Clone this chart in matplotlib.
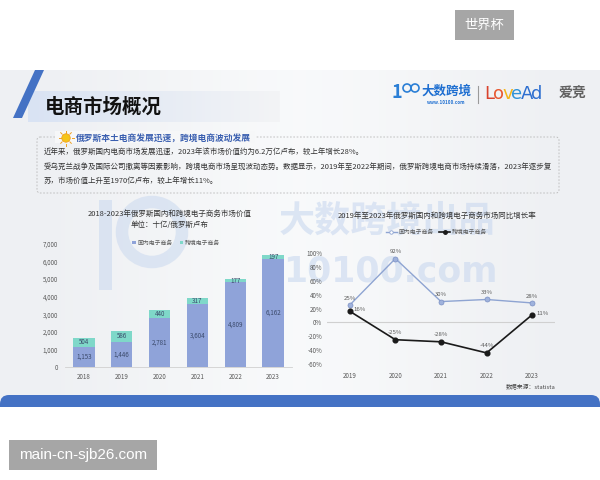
import numpy as np
import matplotlib
matplotlib.use('Agg')
import matplotlib.pyplot as plt
from matplotlib.patches import Rectangle, FancyBboxPatch, Polygon, Circle
from matplotlib.lines import Line2D

plt.rcParams['font.family'] = ['Noto Sans CJK SC', 'DejaVu Sans']

# data
years_value = ['2018', '2019', '2020', '2021', '2022', '2023']
domestic_value = [1153, 1446, 2781, 3604, 4809, 6162]
cross_value = [504, 586, 440, 317, 177, 197]

years_growth = ['2019', '2020', '2021', '2022', '2023']
domestic_growth = [25, 92, 30, 33, 28]
cross_growth = [16, -25, -28, -44, 11]

series_names = ['国内电子商务', '跨境电子商务']

c_dom = '#8fa3d9'
c_cross = '#7fd8c9'
c_line = '#8ea4d2'
c_black = '#1a1a1a'
c_tick = '#595959'

fig = plt.figure(figsize=(6, 4.8), dpi=100)

# background / decoration layer in pixel coords
bg = fig.add_axes([0, 0, 1, 1])
bg.set_xlim(0, 600)
bg.set_ylim(480, 0)
bg.axis('off')

grad = np.array([[0.0, 0.5, 1.0, 0.5, 0.0]])
bg.imshow(grad, extent=(0, 600, 400, 70), cmap=matplotlib.colors.LinearSegmentedColormap.from_list('g', ['#eef0f3', '#fafbfc']),
          aspect='auto', interpolation='bicubic', zorder=0)

# blue bottom band
bg.add_patch(FancyBboxPatch((0, 395), 600, 30, boxstyle='round,pad=0,rounding_size=9',
                            fc='#4472c4', ec='none', zorder=1))
bg.add_patch(Rectangle((0, 407), 600, 73, fc='white', ec='none', zorder=2))

# watermark boxes
bg.add_patch(Rectangle((455, 10), 59, 30, fc='#a6a6a6', ec='none', zorder=3))
bg.text(484.5, 25, '世界杯', color='white', fontsize=9.5, ha='center', va='center', zorder=4)
bg.add_patch(Rectangle((9, 440), 148, 30, fc='#a6a6a6', ec='none', zorder=3))
bg.text(83, 455, 'main-cn-sjb26.com', color='white', fontsize=11, family='Liberation Sans',
        ha='center', va='center', zorder=4)

# title band and stripe
band = np.linspace(1, 0, 100).reshape(1, -1)
bg.imshow(band, extent=(28, 280, 122, 91), aspect='auto',
          cmap=matplotlib.colors.LinearSegmentedColormap.from_list('b', ['#f3f4f6', '#d9e3f3']),
          zorder=1)
bg.add_patch(Polygon([(35, 70), (44, 70), (22, 118), (13, 118)], closed=True, fc='#4472c4', ec='none', zorder=2))
bg.text(45, 107, '电商市场概况', fontsize=14, fontweight='bold', color='#111111', va='center', zorder=3)

# logos
bg.text(397, 93, '1', fontsize=13, fontweight='bold', color='#2b7fd6', ha='center', va='center', zorder=3)
bg.add_patch(Circle((407, 88), 4, fc='none', ec='#2b7fd6', lw=1.2, zorder=3))
bg.add_patch(Circle((415, 88), 4, fc='none', ec='#2b7fd6', lw=1.2, zorder=3))
bg.text(446, 91, '大数跨境', fontsize=9, fontweight='bold', color='#1f6fd1', ha='center', va='center', zorder=3)
bg.text(446, 103, 'www.10100.com', fontsize=3.3, fontweight='bold', color='#1f6fd1', ha='center', va='center', zorder=3)
bg.plot([478, 478], [86, 103], color='#9a9a9a', lw=0.8, zorder=3)
x0 = 484
for ch, col, w in [('L', '#d9432e', 9), ('o', '#e8572f', 9.5), ('v', '#f2b51b', 9), ('e', '#2e92d8', 9), ('A', '#2e6fd0', 10), ('d', '#2e6fd0', 9)]:
    bg.text(x0, 94, ch, fontsize=13, color=col, family='DejaVu Sans', va='center', ha='left', zorder=3)
    x0 += w
bg.text(572, 94, '爱竞', fontsize=10, fontweight='bold', color='#606060', ha='center', va='center', zorder=3)

# dashed info box
bg.add_patch(FancyBboxPatch((37, 137), 522, 56, boxstyle='round,pad=0,rounding_size=3',
                            fc='none', ec='#b8b8b8', lw=0.6, ls=(0, (2, 2)), zorder=2))
bg.add_patch(Rectangle((55, 131), 200, 12, fc='#f6f7f8', ec='none', zorder=3))
bg.add_patch(Circle((66, 138), 4.2, fc='#f5c518', ec='#f0a020', lw=0.6, zorder=4))
for a in np.linspace(0, 2 * np.pi, 9)[:-1]:
    bg.plot([66 + 5.5 * np.cos(a), 66 + 7.5 * np.cos(a)], [138 + 5.5 * np.sin(a), 138 + 7.5 * np.sin(a)],
            color='#f0a020', lw=0.7, zorder=4)
bg.text(76, 139, '俄罗斯本土电商发展迅速，跨境电商波动发展', fontsize=6.3, fontweight='bold',
        color='#3a5fb0', va='center', zorder=4)
para = ['近年来，俄罗斯国内电商市场发展迅速，2023年该市场价值约为6.2万亿卢布，较上年增长28%。',
        '受乌克兰战争及国际公司撤离等因素影响，跨境电商市场呈现波动态势。数据显示，2019年至2022年期间，俄罗斯跨境电商市场持续滑落，2023年逐步复',
        '苏，市场价值上升至1970亿卢布，较上年增长11%。']
for i, line in enumerate(para):
    bg.text(44, 152 + i * 14.5, line, fontsize=5.4, color='#333333', va='center', zorder=4)

# big faint watermark
wm = '#c9d8ef'
bg.text(387, 221, '大数跨境出品', fontsize=26, fontweight='bold', color=wm, alpha=0.6, ha='center', va='center', zorder=2)
bg.text(390, 272, '10100.com', fontsize=25, fontweight='bold', color=wm, alpha=0.6, ha='center', va='center',
        family='DejaVu Sans', zorder=2)
bg.add_patch(Rectangle((99, 200), 13, 90, fc=wm, ec='none', alpha=0.55, zorder=2))
bg.add_patch(Circle((152, 232), 30, fc='none', ec=wm, lw=9, alpha=0.55, zorder=2))

# chart titles / source
bg.text(170, 214, '2018-2023年俄罗斯国内和跨境电子商务市场价值', fontsize=5.4, color='#333333', ha='center', va='center', zorder=5)
bg.text(170, 225, '单位：十亿/俄罗斯卢布', fontsize=5.4, color='#333333', ha='center', va='center', zorder=5)
bg.text(437, 216, '2019年至2023年俄罗斯国内和跨境电子商务市场同比增长率', fontsize=5.4, color='#333333', ha='center', va='center', zorder=5)
bg.text(555, 386, '数据来源：statista', fontsize=4.2, color='#444444', ha='right', va='center', zorder=5)

# left chart: stacked bars
ax1 = fig.add_axes([65 / 600, (480 - 367) / 480, 227 / 600, 123 / 480])
ax1.patch.set_alpha(0)
x = np.arange(len(years_value))
b1 = ax1.bar(x, domestic_value, width=0.56, color=c_dom, label=series_names[0], zorder=3)
b2 = ax1.bar(x, cross_value, width=0.56, bottom=domestic_value, color=c_cross, label=series_names[1], zorder=3)
for xi, d, c in zip(x, domestic_value, cross_value):
    ax1.text(xi, d / 2, f'{d:,}', ha='center', va='center', fontsize=4.5, color='#3b4a6b', zorder=4)
    ax1.text(xi, d + c / 2, f'{c:,}', ha='center', va='center', fontsize=4.5, color='#3b4a6b', zorder=4)
ax1.set_xlim(-0.5, 5.5)
ax1.set_ylim(0, 7000)
ax1.set_yticks(range(0, 7001, 1000))
ax1.set_yticklabels([f'{v:,}' for v in range(0, 7001, 1000)])
ax1.set_xticks(x)
ax1.set_xticklabels(years_value)
ax1.tick_params(length=0, labelsize=4.5, colors=c_tick)
ax1.tick_params(axis='y', pad=5)
ax1.tick_params(axis='x', pad=4)
for s in ['top', 'right', 'left']:
    ax1.spines[s].set_visible(False)
ax1.spines['bottom'].set_color('#d0d0d0')
ax1.spines['bottom'].set_linewidth(0.6)
ax1.legend(loc='center', bbox_to_anchor=(0.49, 1.01), ncol=2, frameon=False, fontsize=4.2,
           handlelength=0.6, handleheight=0.6, handletextpad=0.3, columnspacing=1.2, labelcolor=c_tick)

# right chart: growth lines
ax2 = fig.add_axes([327 / 600, (480 - 364) / 480, 228 / 600, 111 / 480])
ax2.patch.set_alpha(0)
xg = np.arange(len(years_growth))
ax2.axhline(0, color='#d0d0d0', lw=0.8, zorder=1)
ax2.plot(xg, domestic_growth, color=c_line, lw=1, marker='o', ms=3.6, mfc='#9fb2dc', mec='#7b90c4', mew=0.5,
         label=series_names[0], zorder=3)
ax2.plot(xg, cross_growth, color=c_black, lw=1.2, marker='o', ms=3.4, mfc=c_black, mec=c_black,
         label=series_names[1], zorder=3)
for xi, v in zip(xg, domestic_growth):
    ax2.text(xi, v + 10, f'{v}%', ha='center', va='center', fontsize=4.3, color=c_tick)
for xi, v in zip(xg, cross_growth):
    if v > 0:
        ax2.text(xi + 0.22, v + 2, f'{v}%', ha='center', va='center', fontsize=4.3, color=c_tick)
    else:
        ax2.text(xi, v + 10, f'{v}%', ha='center', va='center', fontsize=4.3, color=c_tick)
ax2.set_xlim(-0.5, 4.5)
ax2.set_ylim(-60, 100)
ax2.set_yticks(range(-60, 101, 20))
ax2.set_yticklabels([f'{v}%' for v in range(-60, 101, 20)])
ax2.set_xticks(xg)
ax2.set_xticklabels(years_growth)
ax2.tick_params(length=0, labelsize=4.5, colors=c_tick)
ax2.tick_params(axis='y', pad=3.5)
ax2.tick_params(axis='x', pad=6)
for s in ax2.spines.values():
    s.set_visible(False)
h_dom = Line2D([], [], color=c_line, lw=1, marker='o', ms=2.5, mfc='white', mec=c_line, mew=0.6)
h_cross = Line2D([], [], color=c_black, lw=1.2, marker='o', ms=2.5, mfc=c_black, mec=c_black)
ax2.legend([h_dom, h_cross], series_names, loc='center', bbox_to_anchor=(0.48, 1.19), ncol=2, frameon=False,
           fontsize=4.2, handlelength=1.8, handletextpad=0.3, columnspacing=1.0, labelcolor=c_tick)

fig.savefig('out.png', dpi=100)
